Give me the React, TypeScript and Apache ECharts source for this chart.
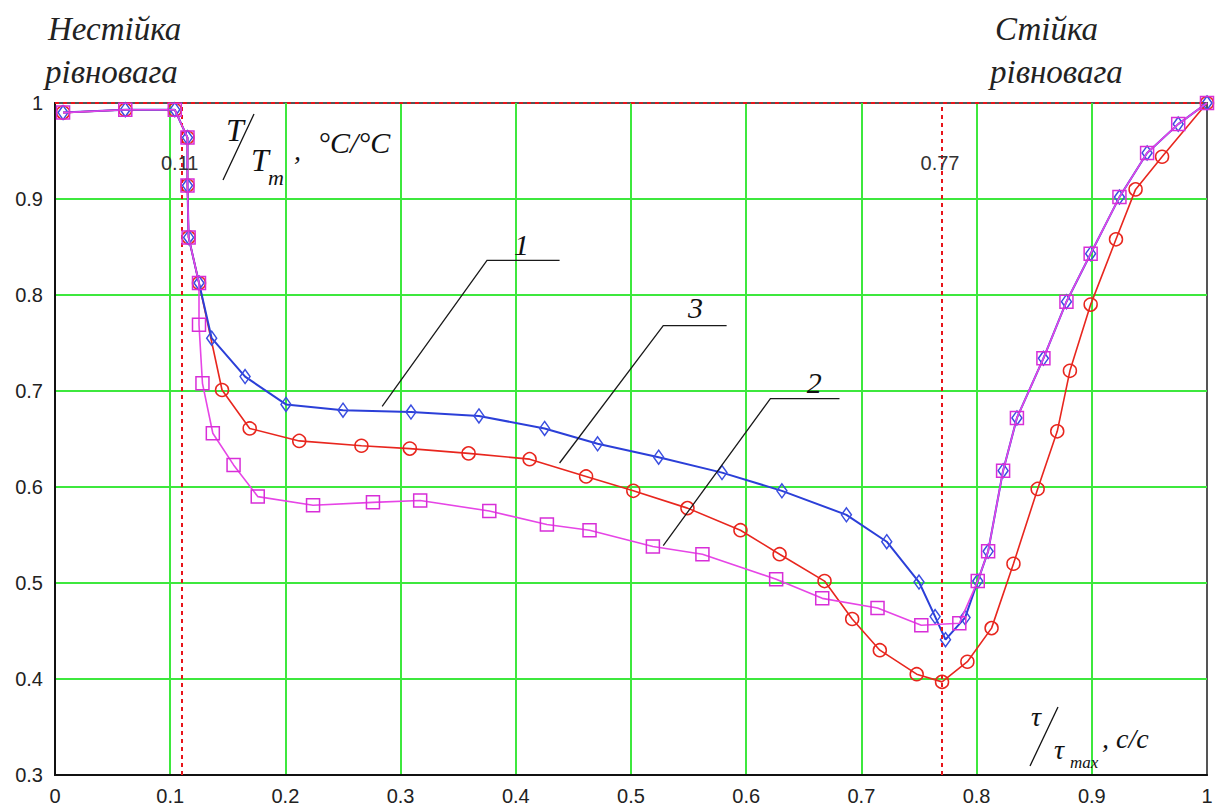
import React, { useEffect, useRef } from "react";
import * as echarts from "echarts";

// ---- data (x = τ/τmax, y = T/Tm) ----
const sharedStart: [number, number][] = [
  [0.007, 0.99], [0.061, 0.993], [0.104, 0.993], [0.115, 0.964],
  [0.115, 0.914], [0.116, 0.86], [0.125, 0.8125],
];

const curve1Mid: [number, number][] = [
  [0.136, 0.755], [0.165, 0.715], [0.2005, 0.686], [0.25, 0.68], [0.309, 0.678],
  [0.368, 0.674], [0.425, 0.661], [0.471, 0.645], [0.524, 0.631], [0.579, 0.615],
  [0.631, 0.596], [0.687, 0.571], [0.722, 0.543], [0.75, 0.501], [0.764, 0.465],
  [0.773, 0.441], [0.79, 0.464],
];

const curve2Mid: [number, number][] = [
  [0.125, 0.769], [0.128, 0.708], [0.137, 0.656], [0.155, 0.623], [0.176, 0.59],
  [0.224, 0.581], [0.276, 0.584], [0.317, 0.586], [0.377, 0.575], [0.427, 0.561],
  [0.464, 0.555], [0.519, 0.538], [0.562, 0.53], [0.626, 0.504], [0.666, 0.484],
  [0.714, 0.474], [0.752, 0.456], [0.785, 0.458],
];

const sharedEnd: [number, number][] = [
  [0.801, 0.502], [0.81, 0.533], [0.823, 0.617], [0.835, 0.672], [0.858, 0.734],
  [0.878, 0.793], [0.899, 0.843], [0.924, 0.902], [0.948, 0.948], [0.975, 0.978],
  [1.0, 1.0],
];

const curve3Mid: [number, number][] = [
  [0.145, 0.701], [0.169, 0.661], [0.212, 0.648], [0.266, 0.643], [0.308, 0.64],
  [0.359, 0.635], [0.412, 0.629], [0.461, 0.611], [0.502, 0.596], [0.549, 0.578],
  [0.595, 0.555], [0.629, 0.53], [0.668, 0.502], [0.692, 0.4625], [0.716, 0.43],
  [0.748, 0.405], [0.77, 0.397], [0.792, 0.418], [0.813, 0.453], [0.832, 0.52],
  [0.853, 0.598], [0.87, 0.658], [0.881, 0.721], [0.899, 0.79], [0.921, 0.858],
  [0.938, 0.91], [0.961, 0.944], [1.0, 1.0],
];

const curve1 = [...sharedStart, ...curve1Mid, ...sharedEnd];
const curve2 = [...sharedStart, ...curve2Mid, ...sharedEnd];
const curve3 = [...sharedStart, ...curve3Mid];

const thresholdX = [0.11, 0.77];
const thresholdLabels = ["0.11", "0.77"];
const thresholdY = 1;
const thresholdLabelY = 0.9375;

// leader lines to the curve numbers (data coords)
const leaders: { label: string; points: [number, number][]; at: [number, number] }[] = [
  { label: "1", points: [[0.284, 0.684], [0.375, 0.836], [0.438, 0.836]], at: [0.405, 0.853] },
  { label: "3", points: [[0.438, 0.625], [0.528, 0.768], [0.583, 0.768]], at: [0.556, 0.787] },
  { label: "2", points: [[0.528, 0.539], [0.621, 0.692], [0.681, 0.692]], at: [0.659, 0.709] },
];

const TICK_FONT = '"Liberation Sans", Arial, sans-serif';
const SERIF = '"Liberation Serif", "Times New Roman", serif';
const TITLE_FONT = '"Liberation Serif", "DejaVu Serif", serif';

export default function App() {
  const ref = useRef<HTMLDivElement>(null);

  useEffect(() => {
    if (!ref.current) return;
    const chart = echarts.init(ref.current, undefined, { renderer: "svg" });

    const markerBase = (color: string) => ({
      color: "rgba(255,255,255,0)",
      borderColor: color,
      borderWidth: 1.5,
    });

    const option: any = {
      animation: false,
      backgroundColor: "#ffffff",
      grid: {
        left: 55,
        right: 15,
        top: 103,
        bottom: 34,
        show: true,
        borderColor: "#555",
        borderWidth: 2,
        outerBoundsMode: "none",
      },
      xAxis: {
        type: "value",
        min: 0,
        max: 1,
        interval: 0.1,
        axisLine: { show: true, onZero: false, lineStyle: { color: "#111", width: 2 } },
        axisTick: { show: false },
        axisLabel: { color: "#222", fontSize: 20, fontFamily: TICK_FONT, margin: 11 },
        splitLine: {
          show: true,
          showMinLine: false,
          showMaxLine: false,
          lineStyle: { color: "#3de83d", width: 2 },
        },
      },
      yAxis: {
        type: "value",
        min: 0.3,
        max: 1,
        interval: 0.1,
        axisLine: { show: true, onZero: false, lineStyle: { color: "#111", width: 2 } },
        axisTick: { show: false },
        axisLabel: { color: "#222", fontSize: 20, fontFamily: TICK_FONT, margin: 12 },
        splitLine: {
          show: true,
          showMinLine: false,
          showMaxLine: false,
          lineStyle: { color: "#3de83d", width: 2 },
        },
      },
      series: [
        {
          type: "line",
          data: [],
          z: 1,
          silent: true,
          markLine: {
            silent: true,
            symbol: ["none", "none"],
            label: { show: false },
            lineStyle: { color: "#e8141a", width: 2, type: [4, 4] },
            data: [
              ...thresholdX.map((v) => ({ xAxis: v })),
              { yAxis: thresholdY },
            ],
          },
        },
        {
          name: "3",
          type: "line",
          data: curve3,
          z: 3,
          clip: false,
          symbol: "circle",
          symbolSize: 13,
          lineStyle: { color: "#e8261e", width: 1.6 },
          itemStyle: markerBase("#e8261e"),
        },
        {
          name: "1",
          type: "line",
          data: curve1,
          z: 4,
          clip: false,
          symbol: "diamond",
          symbolSize: [10, 14],
          lineStyle: { color: "#2b3fd8", width: 2 },
          itemStyle: markerBase("#3a4ee0"),
        },
        {
          name: "2",
          type: "line",
          data: curve2,
          z: 5,
          clip: false,
          symbol: "rect",
          symbolSize: 13,
          lineStyle: { color: "#e645e6", width: 1.6 },
          itemStyle: markerBase("#d82ed8"),
        },
      ],
    };

    chart.setOption(option);

    const px = (p: [number, number]) => chart.convertToPixel({ gridIndex: 0 }, p) as number[];

    const graphics: any[] = [];

    leaders.forEach((l) => {
      graphics.push({
        type: "polyline",
        shape: { points: l.points.map((p) => px(p)) },
        style: { stroke: "#1a1a1a", lineWidth: 1.3, fill: null },
        z: 100,
        silent: true,
      });
      const [lx, ly] = px(l.at);
      graphics.push({
        type: "text",
        x: lx,
        y: ly,
        z: 100,
        silent: true,
        style: {
          text: l.label,
          fontSize: 30,
          fontStyle: "italic",
          fontFamily: SERIF,
          fill: "#111",
          align: "center",
          verticalAlign: "middle",
        },
      });
    });

    thresholdX.forEach((v, i) => {
      const [tx, ty] = px([v, thresholdLabelY]);
      graphics.push({
        type: "text",
        x: tx - 2,
        y: ty,
        z: 100,
        silent: true,
        style: {
          text: thresholdLabels[i],
          fontSize: 20,
          fontFamily: TICK_FONT,
          fill: "#333",
          align: "center",
          verticalAlign: "middle",
        },
      });
    });

    const titleText = (text: string, x: number, y: number) => ({
      type: "text",
      x,
      y,
      z: 100,
      silent: true,
      style: {
        text,
        fontSize: 33,
        fontStyle: "italic",
        fontFamily: TITLE_FONT,
        fill: "#222",
        align: "left",
        verticalAlign: "middle",
      },
    });
    graphics.push(titleText("Нестійка", 48, 29));
    graphics.push(titleText("рівновага", 45, 72));
    graphics.push(titleText("Стійка", 995, 29));
    graphics.push(titleText("рівновага", 990, 72));

    const t = (text: string, x: number, y: number, size: number, italic = true) => ({
      type: "text",
      x,
      y,
      z: 100,
      silent: true,
      style: {
        text,
        fontSize: size,
        fontStyle: italic ? "italic" : "normal",
        fontFamily: SERIF,
        fill: "#111",
        align: "left",
        verticalAlign: "middle",
      },
    });
    const slash = (x1: number, y1: number, x2: number, y2: number) => ({
      type: "line",
      z: 100,
      silent: true,
      shape: { x1, y1, x2, y2 },
      style: { stroke: "#111", lineWidth: 1.3 },
    });

    // y-axis title: T/Tm , °C/°C
    graphics.push(t("T", 226, 130, 32));
    graphics.push(slash(223, 180, 254, 114));
    graphics.push(t("T", 251, 160, 32));
    graphics.push(t("m", 268, 177, 22));
    graphics.push(t(",", 294, 150, 28));
    graphics.push(t("°C/°C", 318, 142, 30));

    // x-axis title: τ/τmax , c/c
    graphics.push(t("τ", 1031, 716, 28));
    graphics.push(slash(1030, 766, 1058, 707));
    graphics.push(t("τ", 1054, 749, 28));
    graphics.push(t("max", 1070, 762, 17));
    graphics.push(t(", c/c", 1102, 738, 28));

    chart.setOption({ graphic: graphics });

    return () => {
      chart.dispose();
    };
  }, []);

  return (
    <div
      ref={ref}
      style={{ position: "fixed", left: 0, top: 0, width: 1222, height: 809, background: "#fff" }}
    />
  );
}
